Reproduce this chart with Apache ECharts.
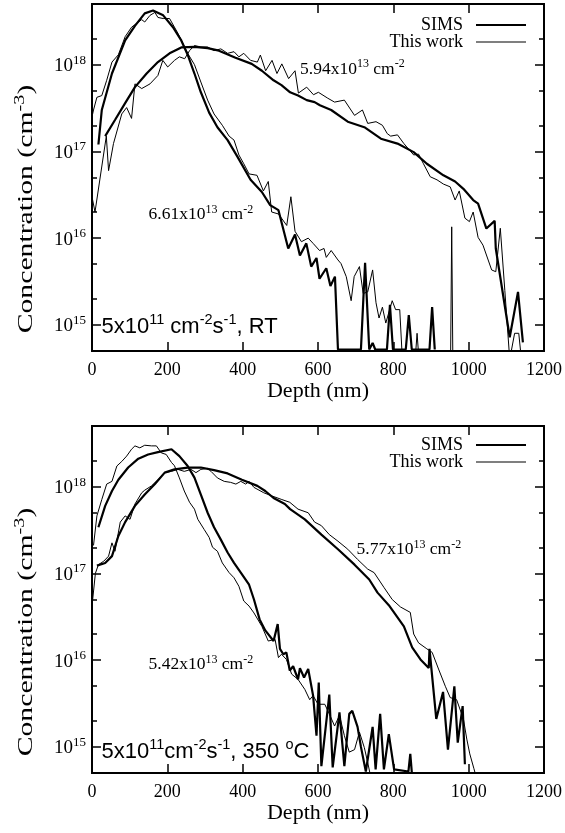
<!DOCTYPE html>
<html><head><meta charset="utf-8">
<script src="https://cdn.jsdelivr.net/npm/echarts@6/dist/echarts.min.js"></script>
<style>html,body{margin:0;padding:0;background:#fff}#c{width:565px;height:833px}</style>
</head><body><div id="c"></div>
<script>
// ---- axis ticks ----
const depthTicks = [0, 200, 400, 600, 800, 1000, 1200];
const concMajorTicks = [1e15, 1e16, 1e17, 1e18];
const concMinorTicks = [2e15, 5e15, 2e16, 5e16, 2e17, 5e17, 2e18];
const seriesNames = ['SIMS', 'This work'];

// ---- RT panel: [depth (nm), concentration (cm^-3)] ----
const rtSimsShallow = [[17,1.2e17],[26,3e17],[53,7.9e17],[88,1.9e18],[114,2.8e18],[140,3.9e18],[162,4.2e18],[189,3.7e18],[215,2.7e18],[237,1.9e18],[254,1.3e18],[272,7.9e17],[289,4.8e17],[311,2.8e17],[333,1.9e17],[360,1.35e17],[386,8.7e16],[421,4.7e16],[451,3.4e16],[473,2.4e16],[495,2.1e16],[521,7.6e15],[539,1.1e16],[552,6.3e15],[569,8.7e15],[582,4.7e15],[596,5.9e15],[604,3.4e15],[622,4.5e15],[633,2.8e15],[645,3.6e15],[653,5.2e14],[714,5.2e14],[725,5.2e15],[736,5.2e14],[745,6.2e14],[752,5.2e14],[783,5.2e14],[791,1.7e15],[799,5.2e14],[833,5.2e14],[841,1.3e15],[849,5.2e14],[896,5.2e14],[903,1.6e15],[910,5.2e14]];
const rtThinShallow = [[0,2.5e17],[4,3e17],[13,4.2e17],[26,4.4e17],[39,6.6e17],[53,1.07e18],[70,1.3e18],[88,2.1e18],[105,2.7e18],[123,3.1e18],[132,3.3e18],[140,3.1e18],[154,3.7e18],[167,4e18],[175,3.5e18],[189,3.4e18],[206,3.4e18],[228,2.3e18],[254,1.35e18],[272,1e18],[289,6.3e17],[307,3.9e17],[324,2.7e17],[346,2e17],[364,1.5e17],[377,1.35e17],[390,9.1e16],[403,7.2e16],[417,5.5e16],[438,5.3e16],[455,3.5e16],[468,4.5e16],[477,2e16],[495,1.9e16],[517,1.4e16],[528,3e16],[539,1.2e16],[556,9.1e15],[574,1e16],[587,8.7e15],[604,7.2e15],[616,7.6e15],[622,6e15],[635,7.2e15],[653,5.6e15],[661,5.1e15],[675,3.6e15],[688,1.9e15],[696,3.6e15],[710,4.7e15],[720,2.3e15],[732,2.4e15],[745,4.3e15],[754,1.8e15],[762,1.2e15],[771,1.6e15],[780,1.05e15],[797,1.9e15],[806,1.5e15],[817,1.5e15],[824,4e14],[858,4e14],[863,8e14],[868,4e14],[952,4e14],[955,1.35e16],[958,4e14]];
const rtSimsDeep = [[35,1.5e17],[61,2.3e17],[88,3.6e17],[114,5.5e17],[145,7.9e17],[175,1.07e18],[206,1.35e18],[237,1.58e18],[272,1.6e18],[307,1.55e18],[337,1.45e18],[381,1.2e18],[424,1.02e18],[451,8.5e17],[482,6.6e17],[503,5.8e17],[526,4.8e17],[547,4.4e17],[570,3.9e17],[591,3.7e17],[605,3.4e17],[635,3e17],[679,2.2e17],[723,1.9e17],[767,1.4e17],[811,1.23e17],[854,9.8e16],[889,7.2e16],[933,5.3e16],[964,4.5e16],[986,3.7e16],[1012,2.75e16],[1025,2.5e16],[1047,1.29e16],[1069,1.58e16],[1072,7.6e15],[1109,7.2e14],[1131,2.4e15],[1144,6.3e14]];
const rtThinDeep = [[0,3e16],[8,2e16],[38,1.5e17],[44,6e16],[57,1.23e17],[79,2.7e17],[92,3.2e17],[105,2.4e17],[114,6e17],[132,5.3e17],[154,6e17],[175,7.5e17],[188,1.12e18],[201,9.4e17],[219,1.12e18],[232,1.23e18],[246,1.17e18],[259,1.45e18],[272,1.66e18],[289,1.6e18],[307,1.6e18],[324,1.45e18],[342,1.52e18],[360,1.35e18],[377,1.41e18],[390,1.23e18],[403,1.35e18],[421,1.12e18],[439,1.07e18],[447,1.29e18],[461,8.5e17],[478,1.12e18],[491,7.9e17],[504,1.02e18],[522,6.9e17],[539,8.5e17],[548,4.7e17],[570,5.5e17],[588,4.5e17],[601,4.8e17],[626,4.1e17],[644,3.7e17],[670,3.9e17],[697,2.6e17],[718,3e17],[732,2.1e17],[754,2.2e17],[771,2e17],[784,1.6e17],[793,1.5e17],[811,1.55e17],[828,1.23e17],[854,9.1e16],[867,9.3e16],[880,7.2e16],[898,5.1e16],[916,4.7e16],[933,4.2e16],[951,3.9e16],[964,2.75e16],[975,3.5e16],[990,1.7e16],[1002,1.55e16],[1012,2e16],[1025,1.02e16],[1038,8.3e15],[1061,4.3e15],[1072,4.1e15],[1084,1.3e16],[1096,2.5e15],[1109,4e14],[1122,8e14],[1133,8e14],[1140,4e14]];

// ---- 350 C panel ----
const htSimsShallow = [[17,3.4e17],[35,6e17],[53,8.9e17],[70,1.2e18],[96,1.66e18],[123,2.1e18],[149,2.35e18],[175,2.5e18],[211,2.7e18],[232,2.25e18],[254,1.73e18],[272,1.27e18],[289,8.1e17],[307,5e17],[324,3.4e17],[342,2.45e17],[360,1.74e17],[377,1.32e17],[395,1.02e17],[417,7.4e16],[430,5e16],[445,2.95e16],[460,2.2e16],[482,1.66e16],[493,2.6e16],[499,1.35e16],[508,1.17e16],[516,1.23e16],[525,7.6e15],[534,8.5e15],[547,6e15],[552,8.1e15],[563,6.3e15],[574,7.9e15],[587,3.9e15],[596,1.35e15],[602,5.5e15],[609,6e14],[630,4e15],[639,5.8e14],[657,2.5e15],[670,6e14],[683,2.4e15],[691,2.6e15],[705,1.7e15],[714,1e15],[727,5.2e14],[745,1.7e15],[753,5.5e14],[765,2.4e15],[775,5.5e14],[788,1.4e15],[802,5.5e14],[840,5.2e14],[845,8.3e14],[851,4e14]];
const htThinShallow = [[4,2.1e17],[13,4.6e17],[26,7.1e17],[39,1.07e18],[53,1.15e18],[66,1.73e18],[79,1.95e18],[92,2.25e18],[105,2.7e18],[114,2.95e18],[127,2.8e18],[140,3e18],[158,2.95e18],[171,2.95e18],[184,2.45e18],[197,2.35e18],[211,1.9e18],[219,1.74e18],[232,1.26e18],[245,8.9e17],[259,6.6e17],[272,5.5e17],[281,4.2e17],[298,3.2e17],[311,2.6e17],[320,2e17],[333,1.8e17],[346,1.32e17],[364,1.02e17],[377,8.9e16],[390,7.1e16],[403,4.8e16],[417,4.2e16],[430,3.5e16],[451,2.45e16],[468,1.66e16],[486,1.74e16],[495,1.07e16],[503,1.17e16],[516,1.02e16],[530,6.9e15],[547,6e15],[565,4.6e15],[578,3.5e15],[587,3.9e15],[600,3.1e15],[618,3.1e15],[630,2.4e15],[644,1.74e15],[657,2.3e15],[670,1.35e15],[683,8.7e14],[697,9.3e14],[710,1.48e15],[723,9.8e14],[732,6.6e14],[740,4.5e14]];
const htSimsDeep = [[13,1.23e17],[35,1.32e17],[53,1.58e17],[70,2.7e17],[88,3.9e17],[114,6e17],[140,8.1e17],[167,1.07e18],[193,1.45e18],[219,1.58e18],[254,1.66e18],[289,1.66e18],[324,1.55e18],[360,1.42e18],[398,1.2e18],[439,1.02e18],[460,8.9e17],[482,7.4e17],[512,6.3e17],[526,5.5e17],[565,4.2e17],[609,2.8e17],[653,1.9e17],[697,1.26e17],[736,8.5e16],[758,6e16],[788,4.3e16],[828,2.45e16],[850,1.4e16],[872,1.02e16],[894,8.1e15],[896,1.35e16],[914,2.1e15],[932,4.3e15],[945,9.3e14],[962,5e15],[971,1.12e15],[984,2.95e15],[990,6.3e14]];
const htThinDeep = [[0,4.2e16],[9,1e17],[17,1.26e17],[31,1.38e17],[44,1.58e17],[53,2.25e17],[61,1.8e17],[75,3.9e17],[88,4.6e17],[101,4.2e17],[114,6.3e17],[132,8.5e17],[140,9.1e17],[158,1.02e18],[180,1.26e18],[193,1.45e18],[211,1.5e18],[228,1.58e18],[245,1.5e18],[263,1.58e18],[276,1.45e18],[289,1.58e18],[307,1.62e18],[316,1.5e18],[333,1.26e18],[351,1.15e18],[368,1.12e18],[382,1.07e18],[395,1.15e18],[408,1.07e18],[417,1.15e18],[430,9.8e17],[456,8.5e17],[478,7.8e17],[504,7.1e17],[525,6.6e17],[547,5.5e17],[574,5e17],[591,3.9e17],[609,3.55e17],[630,2.8e17],[653,2.35e17],[679,1.9e17],[705,1.45e17],[732,1.12e17],[749,1.02e17],[775,6.9e16],[797,5e16],[819,4.1e16],[845,3.55e16],[854,2e16],[867,1.58e16],[889,1.35e16],[903,1.23e16],[920,7.9e15],[938,5e15],[951,3.7e15],[968,3.5e15],[986,2.1e15],[995,1.23e15],[1003,8.3e14],[1014,5.6e14],[1020,4.5e14]];

const SERIF = "'Liberation Serif','Times New Roman',serif";
const SANS = "'Liberation Sans',Arial,sans-serif";
function supRich(base, sup, pb, family) {
  return {
    b: { fontSize: base, fontFamily: family, color: '#000', verticalAlign: 'bottom' },
    s: { fontSize: sup, fontFamily: family, color: '#000', verticalAlign: 'top', padding: [0, 0, pb, 0] }
  };
}
const AXLINE = { show: true, lineStyle: { color: '#000', width: 2 } };
const TICKSTYLE = { color: '#000', width: 1.5 };

const grids = [
  { left: 92, top: 4, width: 455, height: 347 },
  { left: 92, top: 426, width: 455, height: 347 }
];
const xAxes = [], yAxes = [];
grids.forEach((g, gi) => {
  const xb = { gridIndex: gi, type: 'value', min: depthTicks[0], max: depthTicks[depthTicks.length - 1], interval: depthTicks[1] - depthTicks[0], splitLine: { show: false }, axisLine: AXLINE };
  xAxes.push(Object.assign({}, xb, {
    position: 'bottom',
    axisTick: { inside: true, length: 9, lineStyle: TICKSTYLE },
    axisLabel: { margin: 10, fontSize: 18, fontFamily: SERIF, color: '#000', formatter: v => String(v) },
    name: 'Depth (nm)', nameLocation: 'middle', nameGap: 25,
    nameTextStyle: { fontSize: 22, fontFamily: SERIF, color: '#000' }
  }));
  xAxes.push(Object.assign({}, xb, {
    position: 'top',
    axisTick: { inside: true, length: 9, lineStyle: TICKSTYLE },
    axisLabel: { show: false }
  }));
  const yb = { gridIndex: gi, type: 'log', logBase: 10, min: 5e14, max: 5e18, splitLine: { show: false }, axisLine: AXLINE };
  yAxes.push(Object.assign({}, yb, {
    position: 'left',
    axisTick: { inside: true, length: 9, lineStyle: TICKSTYLE, customValues: concMajorTicks },
    axisLabel: {
      customValues: concMajorTicks, margin: 6,
      formatter: v => '{b|10}{s|' + Math.round(Math.log10(v)) + '}',
      rich: supRich(19, 13, 9, SERIF)
    }
  }));
  yAxes.push(Object.assign({}, yb, {
    position: 'left',
    axisTick: { inside: true, length: 5, lineStyle: TICKSTYLE, customValues: concMinorTicks },
    axisLabel: { show: false }
  }));
  yAxes.push(Object.assign({}, yb, {
    position: 'right',
    axisTick: { inside: true, length: 9, lineStyle: TICKSTYLE, customValues: concMajorTicks },
    axisLabel: { show: false }
  }));
  yAxes.push(Object.assign({}, yb, {
    position: 'right',
    axisTick: { inside: true, length: 5, lineStyle: TICKSTYLE, customValues: concMinorTicks },
    axisLabel: { show: false }
  }));
});

function line(name, data, gi, thick) {
  return {
    type: 'line', name: name, data: data, xAxisIndex: gi * 2, yAxisIndex: gi * 4,
    showSymbol: false, symbol: 'none', clip: true, animation: false,
    lineStyle: { color: '#000', width: thick ? 2.2 : 1 },
    itemStyle: { color: '#000' }
  };
}
const series = [
  line(seriesNames[0], rtSimsShallow, 0, true),
  line(seriesNames[0], rtSimsDeep, 0, true),
  line(seriesNames[1], rtThinShallow, 0, false),
  line(seriesNames[1], rtThinDeep, 0, false),
  line(seriesNames[0], htSimsShallow, 1, true),
  line(seriesNames[0], htSimsDeep, 1, true),
  line(seriesNames[1], htThinShallow, 1, false),
  line(seriesNames[1], htThinDeep, 1, false)
];

function legend(top) {
  return {
    data: [
      { name: seriesNames[0], icon: 'path://M0,0H50V2.2H0Z' },
      { name: seriesNames[1], icon: 'path://M0,0H50V1H0Z' }
    ],
    orient: 'vertical', right: 39, top: top, align: 'right', padding: 0,
    itemWidth: 50, itemHeight: 14, itemGap: -1, selectedMode: false,
    itemStyle: { color: '#000', borderWidth: 0 },
    textStyle: { fontSize: 18, fontFamily: SERIF, color: '#000', padding: [0, 8, 0, 0] }
  };
}

function note(x, y, text, rich) {
  return { type: 'text', x: x, y: y, z: 100, style: { text: text, rich: rich, align: 'left', verticalAlign: 'middle' } };
}
const annRich = supRich(17.5, 12, 8, SERIF);
const condRich = supRich(22, 14.5, 10, SANS);
const titleRich = supRich(22, 15, 10, SERIF);
function title(y) {
  return { type: 'text', x: 25, y: y, rotation: Math.PI / 2, scaleX: 1.35, style: { text: '{b|Concentration (cm}{s|-3}{b|)}', rich: titleRich, align: 'center', verticalAlign: 'middle' } };
}
const graphic = [
  note(300, 68, '{b|5.94x10}{s|13}{b| cm}{s|-2}', annRich),
  note(148.5, 213.5, '{b|6.61x10}{s|13}{b| cm}{s|-2}', annRich),
  note(101.5, 325, '{b|5x10}{s|11}{b| cm}{s|-2}{b|s}{s|-1}{b|, RT}', condRich),
  note(356.5, 548.5, '{b|5.77x10}{s|13}{b| cm}{s|-2}', annRich),
  note(148.5, 663.5, '{b|5.42x10}{s|13}{b| cm}{s|-2}', annRich),
  note(101.5, 750, '{b|5x10}{s|11}{b|cm}{s|-2}{b|s}{s|-1}{b|, 350 }{s|o}{b|C}', condRich),
  title(209),
  title(632)
];

const chart = echarts.init(document.getElementById('c'), null, { renderer: 'canvas' });
chart.setOption({
  animation: false,
  backgroundColor: '#fff',
  grid: grids,
  xAxis: xAxes,
  yAxis: yAxes,
  legend: [legend(16), legend(436)],
  series: series,
  graphic: graphic
});
</script></body></html>
